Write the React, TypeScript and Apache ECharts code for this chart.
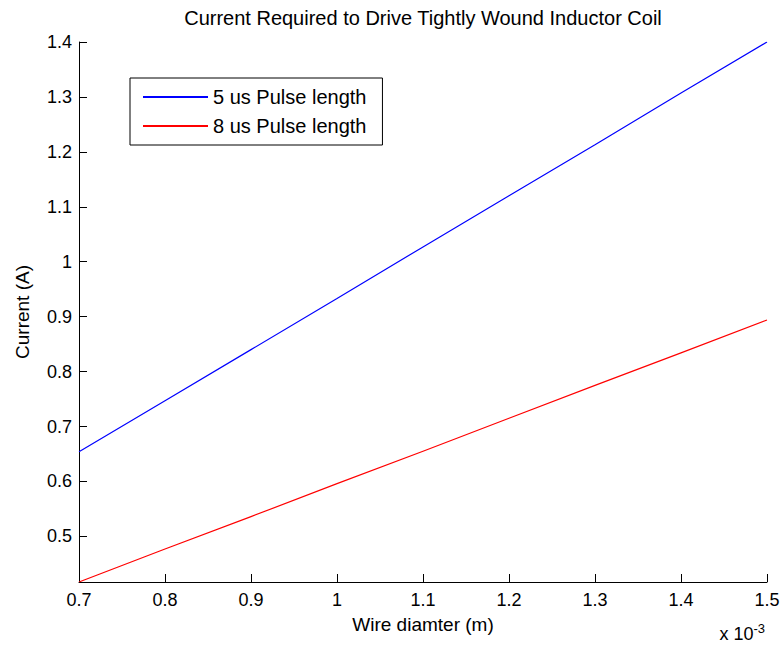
import React, { useEffect, useRef } from "react";
import * as echarts from "echarts";

const diameters = [0.7, 0.8, 0.9, 1.0, 1.1, 1.2, 1.3, 1.4, 1.5];
const current5us = [0.654, 0.747, 0.840, 0.933, 1.027, 1.120, 1.213, 1.307, 1.400];
const current8us = [0.417, 0.477, 0.536, 0.596, 0.655, 0.715, 0.775, 0.834, 0.894];
const xTicks = [0.7, 0.8, 0.9, 1.0, 1.1, 1.2, 1.3, 1.4, 1.5];
const yTicks = [0.5, 0.6, 0.7, 0.8, 0.9, 1.0, 1.1, 1.2, 1.3, 1.4];
const seriesNames = ["5 us Pulse length", "8 us Pulse length"];

const FONT = "'Liberation Sans', Arial, Helvetica, sans-serif";

export default function App() {
  const ref = useRef<HTMLDivElement>(null);
  useEffect(() => {
    if (!ref.current) return;
    const chart = echarts.init(ref.current, null, { renderer: "svg" });
    const fmt = (v: number) => String(Math.round(v * 10) / 10);
    chart.setOption({
      animation: false,
      backgroundColor: "#fff",
      textStyle: { fontFamily: FONT, color: "#000" },
      title: {
        text: "Current Required to Drive Tightly Wound Inductor Coil",
        left: 423,
        top: 8,
        padding: 0,
        textAlign: "center",
        textStyle: { fontFamily: FONT, fontSize: 20, fontWeight: "normal", color: "#000" },
      },
      legend: {
        orient: "vertical",
        left: 130,
        top: 78,
        padding: [9, 16, 9, 12],
        itemWidth: 65,
        itemHeight: 20,
        itemGap: 9,
        borderColor: "#000",
        borderWidth: 1,
        backgroundColor: "#fff",
        itemStyle: { opacity: 0 },
        textStyle: { fontFamily: FONT, fontSize: 20, color: "#000" },
        data: seriesNames,
      },
      grid: { left: 79, right: 17, top: 42, bottom: 67, containLabel: false },
      xAxis: {
        type: "value",
        min: 0.7,
        max: 1.5,
        name: "Wire diamter (m)",
        nameLocation: "middle",
        nameGap: 33,
        nameTextStyle: { fontFamily: FONT, fontSize: 19, color: "#000" },
        axisLine: { show: true, lineStyle: { color: "#000", width: 1 } },
        axisTick: { show: true, inside: true, length: 8, lineStyle: { color: "#000" }, customValues: xTicks },
        axisLabel: { fontFamily: FONT, fontSize: 18, color: "#000", margin: 9, customValues: xTicks, formatter: fmt },
        splitLine: { show: false },
      },
      yAxis: {
        type: "value",
        min: 0.417,
        max: 1.4,
        name: "Current (A)",
        nameLocation: "middle",
        nameGap: 47,
        nameTextStyle: { fontFamily: FONT, fontSize: 19, color: "#000" },
        axisLine: { show: true, lineStyle: { color: "#000", width: 1 } },
        axisTick: { show: true, inside: true, length: 8, lineStyle: { color: "#000" }, customValues: yTicks },
        axisLabel: { fontFamily: FONT, fontSize: 18, color: "#000", margin: 7, customValues: yTicks, formatter: fmt },
        splitLine: { show: false },
      },
      graphic: [
        {
          type: "text",
          right: 19,
          top: 622,
          style: {
            text: "x 10{sup|-3}",
            fontFamily: FONT,
            fontSize: 18,
            fill: "#000",
            rich: { sup: { fontSize: 13, fontFamily: FONT, verticalAlign: "top", padding: [0, 0, 10, 0] } },
          },
        },
      ],
      series: [
        {
          name: seriesNames[0],
          type: "line",
          symbol: "none",
          lineStyle: { color: "#0000ff", width: 1.2 },
          itemStyle: { color: "#0000ff" },
          data: diameters.map((d, i) => [d, current5us[i]]),
        },
        {
          name: seriesNames[1],
          type: "line",
          symbol: "none",
          lineStyle: { color: "#ff0000", width: 1.2 },
          itemStyle: { color: "#ff0000" },
          data: diameters.map((d, i) => [d, current8us[i]]),
        },
      ],
    });
    return () => chart.dispose();
  }, []);
  return <div ref={ref} style={{ position: "fixed", left: 0, top: 0, width: 784, height: 649 }} />;
}
